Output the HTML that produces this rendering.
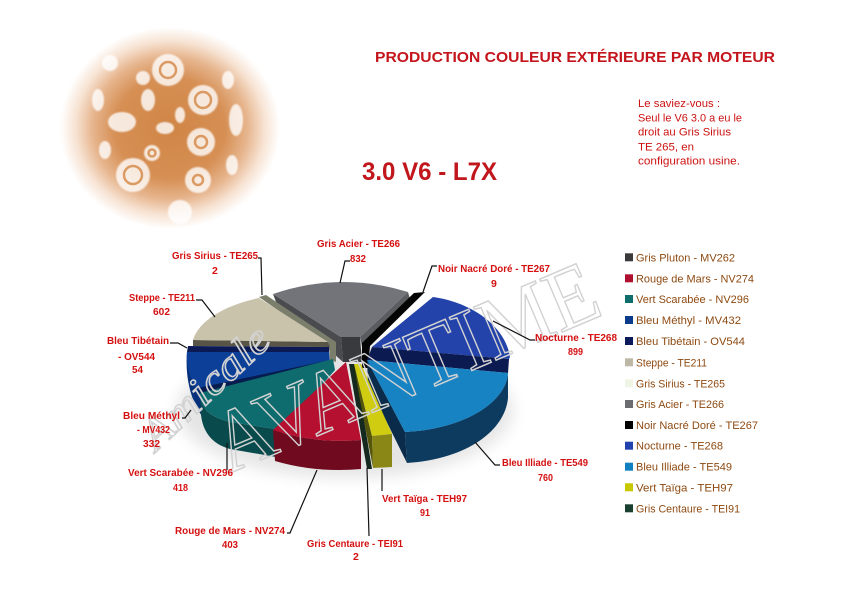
<!DOCTYPE html>
<html>
<head>
<meta charset="utf-8">
<style>
html,body{margin:0;padding:0;background:#fff;}
body{width:859px;height:607px;overflow:hidden;position:relative;}
svg{position:absolute;left:0;top:0;}
</style>
</head>
<body>
<svg width="859" height="607" viewBox="0 0 859 607" xmlns="http://www.w3.org/2000/svg">
<defs>
<radialGradient id="eng" cx="170" cy="128" r="110" gradientUnits="userSpaceOnUse" gradientTransform="translate(170 128) scale(1 0.92) translate(-170 -128)">
<stop offset="0" stop-color="#d08545"/>
<stop offset="0.5" stop-color="#d68f54"/>
<stop offset="0.7" stop-color="#e6b48c"/>
<stop offset="0.86" stop-color="#f7e3d3"/>
<stop offset="1" stop-color="#ffffff"/>
</radialGradient>
<filter id="blur" x="-30%" y="-30%" width="160%" height="160%"><feGaussianBlur stdDeviation="8"/></filter>
<filter id="soft" x="-10%" y="-10%" width="120%" height="120%"><feGaussianBlur stdDeviation="0.8"/></filter>
</defs>

<!-- engine image -->
<rect x="0" y="0" width="859" height="607" fill="#fff"/>
<ellipse cx="170" cy="128" rx="112" ry="100" fill="url(#eng)"/>
<g fill="#fff" opacity="0.8" filter="url(#soft)">
<circle cx="168" cy="70" r="16"/>
<circle cx="203" cy="100" r="15"/>
<circle cx="201" cy="142" r="14"/>
<circle cx="133" cy="175" r="17"/>
<circle cx="198" cy="180" r="13"/>
<circle cx="180" cy="212" r="12"/>
<circle cx="110" cy="63" r="8"/>
<circle cx="143" cy="78" r="7"/>
<ellipse cx="122" cy="122" rx="14" ry="10"/>
<ellipse cx="148" cy="100" rx="7" ry="11"/>
<circle cx="152" cy="153" r="8"/>
<ellipse cx="236" cy="120" rx="7" ry="16"/>
<ellipse cx="98" cy="100" rx="6" ry="11"/>
<ellipse cx="165" cy="128" rx="9" ry="6"/>
<ellipse cx="228" cy="80" rx="6" ry="9"/>
<ellipse cx="105" cy="150" rx="6" ry="9"/>
<ellipse cx="232" cy="165" rx="6" ry="10"/>
<ellipse cx="180" cy="115" rx="5" ry="8"/>
</g>
<g fill="none" stroke="#d99256" stroke-width="2.5" opacity="0.9">
<circle cx="168" cy="70" r="8"/>
<circle cx="203" cy="100" r="8"/>
<circle cx="201" cy="142" r="6"/>
<circle cx="133" cy="175" r="9"/>
<circle cx="198" cy="180" r="5"/>
<circle cx="152" cy="153" r="3.5"/>
</g>

<!-- titles -->
<text x="375" y="62" font-family="Liberation Sans, sans-serif" font-weight="bold" font-size="15" fill="#c4141c" textLength="400" lengthAdjust="spacingAndGlyphs">PRODUCTION COULEUR EXTÉRIEURE PAR MOTEUR</text>
<text x="362" y="180" font-family="Liberation Sans, sans-serif" font-weight="bold" font-size="25" fill="#c0161c" textLength="135" lengthAdjust="spacingAndGlyphs">3.0 V6 - L7X</text>
<g font-family="Liberation Sans, sans-serif" font-size="11" fill="#cc1111">
<text x="638" y="107" textLength="82" lengthAdjust="spacingAndGlyphs">Le saviez-vous :</text>
<text x="638" y="121.5" textLength="104" lengthAdjust="spacingAndGlyphs">Seul le V6 3.0 a eu le</text>
<text x="638" y="135.5" textLength="93" lengthAdjust="spacingAndGlyphs">droit au Gris Sirius</text>
<text x="638" y="150.5" textLength="56" lengthAdjust="spacingAndGlyphs">TE 265, en</text>
<text x="638" y="164.5" textLength="102" lengthAdjust="spacingAndGlyphs">configuration usine.</text>
</g>

<!-- shadow -->
<ellipse cx="345" cy="410" rx="168" ry="68" fill="#000" opacity="0.10" filter="url(#blur)"/>

<!-- Gris Acier -->
<path d="M273,294 L341,337 L343,362 L276,302 Z" fill="#4a4b4f"/>
<path d="M408,292 L410,299 L362,347 L360,337 Z" fill="#5b5c60"/>
<path d="M341,337 L360,337 L362,362 L343,362 Z" fill="#393a3d"/>
<path d="M273,294 Q340,271 408,292 L360,337 L341,337 Z" fill="#727479"/>
<!-- Noir -->
<path d="M414,293 L425,292 L370,346 L368,368 L362,368 L362,343 Z" fill="#050505"/>
<!-- Sirius -->
<path d="M259,297 L266,295 L336,342 L336,362 L330,360 L329,346 Z" fill="#7c7e6c"/>
<!-- Steppe -->
<path d="M193,340 L328,342 L330,347 L193,346 Z" fill="#585446"/>
<path d="M328,342 L193,340 C199,320 226,305 259,298 Z" fill="#c9c3ac"/>
<!-- Tibetain -->
<path d="M188,346 L329,347 L329,352 L187,352 Z" fill="#0b1a55"/>
<!-- Bleu Methyl -->
<path d="M187,352 C185,375 190,400 202,416 L208,416 L200,392 L190,360 Z" fill="#07307c"/>
<path d="M329,352 L187,352 C186,365 190,380 198,390 L330,362 Z" fill="#0b3f98"/>
<path d="M198,388 L330,360 L333,366 L200,394 Z" fill="#061c4e"/>
<!-- Nocturne -->
<path d="M372,347 L433,297 C470,302 505,325 510,357 L509,359 Z" fill="#2343aa"/>
<path d="M372,347 L509,359 L508,373 L367,360 Z" fill="#0c1a52"/>
<!-- Bleu Illiade -->
<path d="M367,360 L405,432 L407,463 L368,384 Z" fill="#0a2c4a"/>
<path d="M508,373 C506,402 465,429 405,432 L407,463 C468,459 505,430 508,398 Z" fill="#0d3b60"/>
<path d="M367,360 L508,373 C506,402 465,429 405,432 Z" fill="#1783c3"/>
<!-- Vert Scarabee -->
<path d="M200,393 C200,405 204,415 230,422 L282,430 L282,458 L230,449 C212,444 203,432 201,415 Z" fill="#094a4c"/>
<path d="M333,359 L200,393 C200,405 204,415 230,422 L282,430 L335,370 Z" fill="#0e6c6f"/>
<!-- Rouge de Mars -->
<path d="M273,430 Q316,444 361,440 L361,469 Q316,473 275,461 Z" fill="#700a1e"/>
<path d="M346,362 L273,430 Q316,444 361,440 Z" fill="#b5102f"/>
<!-- Gris Centaure -->
<path d="M349,364 L355,364 L372,469 L367,469 Z" fill="#15291e"/>
<!-- Vert Taiga -->
<path d="M354,364 L372,436 L373,468 L360,400 Z" fill="#55550c"/>
<path d="M354,364 L361,364 L392,434 L372,436 Z" fill="#cfcc12"/>
<path d="M372,436 L392,434 L392,467 L373,468 Z" fill="#8a8716"/>

<!-- watermark -->
<g fill="none" stroke="#d2d2d2" stroke-width="1.5">
<text transform="translate(228,474) rotate(-23)" x="0" y="0" font-family="Liberation Serif, serif" font-size="88" textLength="410" lengthAdjust="spacingAndGlyphs">AVANTIME</text>
<text transform="translate(156,452) rotate(-43)" x="0" y="0" font-family="Liberation Serif, serif" font-style="italic" font-size="42" textLength="160" lengthAdjust="spacingAndGlyphs">Amicale</text>
</g>

<!-- leader lines -->
<g fill="none" stroke="#111" stroke-width="1.2">
<path d="M350,261 L345,261 L340,283"/>
<path d="M437,266 L432,266 L423,292"/>
<path d="M258,258 L261,258 L262,295"/>
<path d="M196,300 L202,300 L215,317"/>
<path d="M170,343 L178,343 L187,348"/>
<path d="M182,418 L185,418 L191,410"/>
<path d="M227,470 L227,443"/>
<path d="M287,533 L290,533 L317,470"/>
<path d="M369,536 L367,468"/>
<path d="M382,491 L382,469"/>
<path d="M475,442 L495,465 L500,465"/>
<path d="M493,321 L530,340 L535,340"/>
</g>

<!-- labels -->
<g font-family="Liberation Sans, sans-serif" font-weight="bold" font-size="10.5" fill="#d41010">
<text x="317" y="247" textLength="83" lengthAdjust="spacingAndGlyphs">Gris Acier - TE266</text>
<text x="350" y="262" textLength="16" lengthAdjust="spacingAndGlyphs">832</text>
<text x="438" y="272" textLength="112" lengthAdjust="spacingAndGlyphs">Noir Nacré Doré - TE267</text>
<text x="491" y="287">9</text>
<text x="172" y="259" textLength="86" lengthAdjust="spacingAndGlyphs">Gris Sirius - TE265</text>
<text x="212" y="274">2</text>
<text x="129" y="301" textLength="66" lengthAdjust="spacingAndGlyphs">Steppe - TE211</text>
<text x="153" y="315" textLength="17" lengthAdjust="spacingAndGlyphs">602</text>
<text x="107" y="344" textLength="62" lengthAdjust="spacingAndGlyphs">Bleu Tibétain</text>
<text x="118" y="360" textLength="37" lengthAdjust="spacingAndGlyphs">- OV544</text>
<text x="132" y="373" textLength="11" lengthAdjust="spacingAndGlyphs">54</text>
<text x="123" y="419" textLength="57" lengthAdjust="spacingAndGlyphs">Bleu Méthyl</text>
<text x="137" y="433" textLength="33" lengthAdjust="spacingAndGlyphs">- MV432</text>
<text x="143" y="447" textLength="17" lengthAdjust="spacingAndGlyphs">332</text>
<text x="128" y="476" textLength="105" lengthAdjust="spacingAndGlyphs">Vert Scarabée - NV296</text>
<text x="173" y="491" textLength="15" lengthAdjust="spacingAndGlyphs">418</text>
<text x="175" y="534" textLength="110" lengthAdjust="spacingAndGlyphs">Rouge de Mars - NV274</text>
<text x="222" y="548" textLength="16" lengthAdjust="spacingAndGlyphs">403</text>
<text x="307" y="547" textLength="96" lengthAdjust="spacingAndGlyphs">Gris Centaure - TEI91</text>
<text x="353" y="560">2</text>
<text x="382" y="502" textLength="85" lengthAdjust="spacingAndGlyphs">Vert Taïga - TEH97</text>
<text x="420" y="516" textLength="10" lengthAdjust="spacingAndGlyphs">91</text>
<text x="502" y="466" textLength="86" lengthAdjust="spacingAndGlyphs">Bleu Illiade - TE549</text>
<text x="538" y="481" textLength="15" lengthAdjust="spacingAndGlyphs">760</text>
<text x="535" y="341" textLength="82" lengthAdjust="spacingAndGlyphs">Nocturne - TE268</text>
<text x="568" y="355" textLength="15" lengthAdjust="spacingAndGlyphs">899</text>
</g>

<!-- legend -->
<g>
<rect x="625" y="253.3" width="8" height="8" fill="#3a3a3c"/>
<rect x="625" y="274.3" width="8" height="8" fill="#b01030"/>
<rect x="625" y="295" width="8" height="8" fill="#0e6e6e"/>
<rect x="625" y="316" width="8" height="8" fill="#0a3a8a"/>
<rect x="625" y="337" width="8" height="8" fill="#0a1a5a"/>
<rect x="625" y="358.3" width="8" height="8" fill="#bdb8a6"/>
<rect x="625" y="379.3" width="8" height="8" fill="#eef5e4"/>
<rect x="625" y="400" width="8" height="8" fill="#6a6c70"/>
<rect x="625" y="421" width="8" height="8" fill="#000000"/>
<rect x="625" y="441.7" width="8" height="8" fill="#2242b0"/>
<rect x="625" y="462.7" width="8" height="8" fill="#1080c0"/>
<rect x="625" y="483.3" width="8" height="8" fill="#c8c800"/>
<rect x="625" y="504.3" width="8" height="8" fill="#1a4030"/>
</g>
<g font-family="Liberation Sans, sans-serif" font-size="11" fill="#8e4a12">
<text x="636" y="261.3" textLength="99" lengthAdjust="spacingAndGlyphs">Gris Pluton - MV262</text>
<text x="636" y="282.3" textLength="118" lengthAdjust="spacingAndGlyphs">Rouge de Mars - NV274</text>
<text x="636" y="303" textLength="113" lengthAdjust="spacingAndGlyphs">Vert Scarabée - NV296</text>
<text x="636" y="324" textLength="105" lengthAdjust="spacingAndGlyphs">Bleu Méthyl - MV432</text>
<text x="636" y="345" textLength="109" lengthAdjust="spacingAndGlyphs">Bleu Tibétain - OV544</text>
<text x="636" y="366.3" textLength="71" lengthAdjust="spacingAndGlyphs">Steppe - TE211</text>
<text x="636" y="387.3" textLength="89" lengthAdjust="spacingAndGlyphs">Gris Sirius - TE265</text>
<text x="636" y="408" textLength="88" lengthAdjust="spacingAndGlyphs">Gris Acier - TE266</text>
<text x="636" y="429" textLength="122" lengthAdjust="spacingAndGlyphs">Noir Nacré Doré - TE267</text>
<text x="636" y="449.7" textLength="87" lengthAdjust="spacingAndGlyphs">Nocturne - TE268</text>
<text x="636" y="470.7" textLength="96" lengthAdjust="spacingAndGlyphs">Bleu Illiade - TE549</text>
<text x="636" y="491.3" textLength="97" lengthAdjust="spacingAndGlyphs">Vert Taïga - TEH97</text>
<text x="636" y="512.3" textLength="104" lengthAdjust="spacingAndGlyphs">Gris Centaure - TEI91</text>
</g>
</svg>
</body>
</html>
